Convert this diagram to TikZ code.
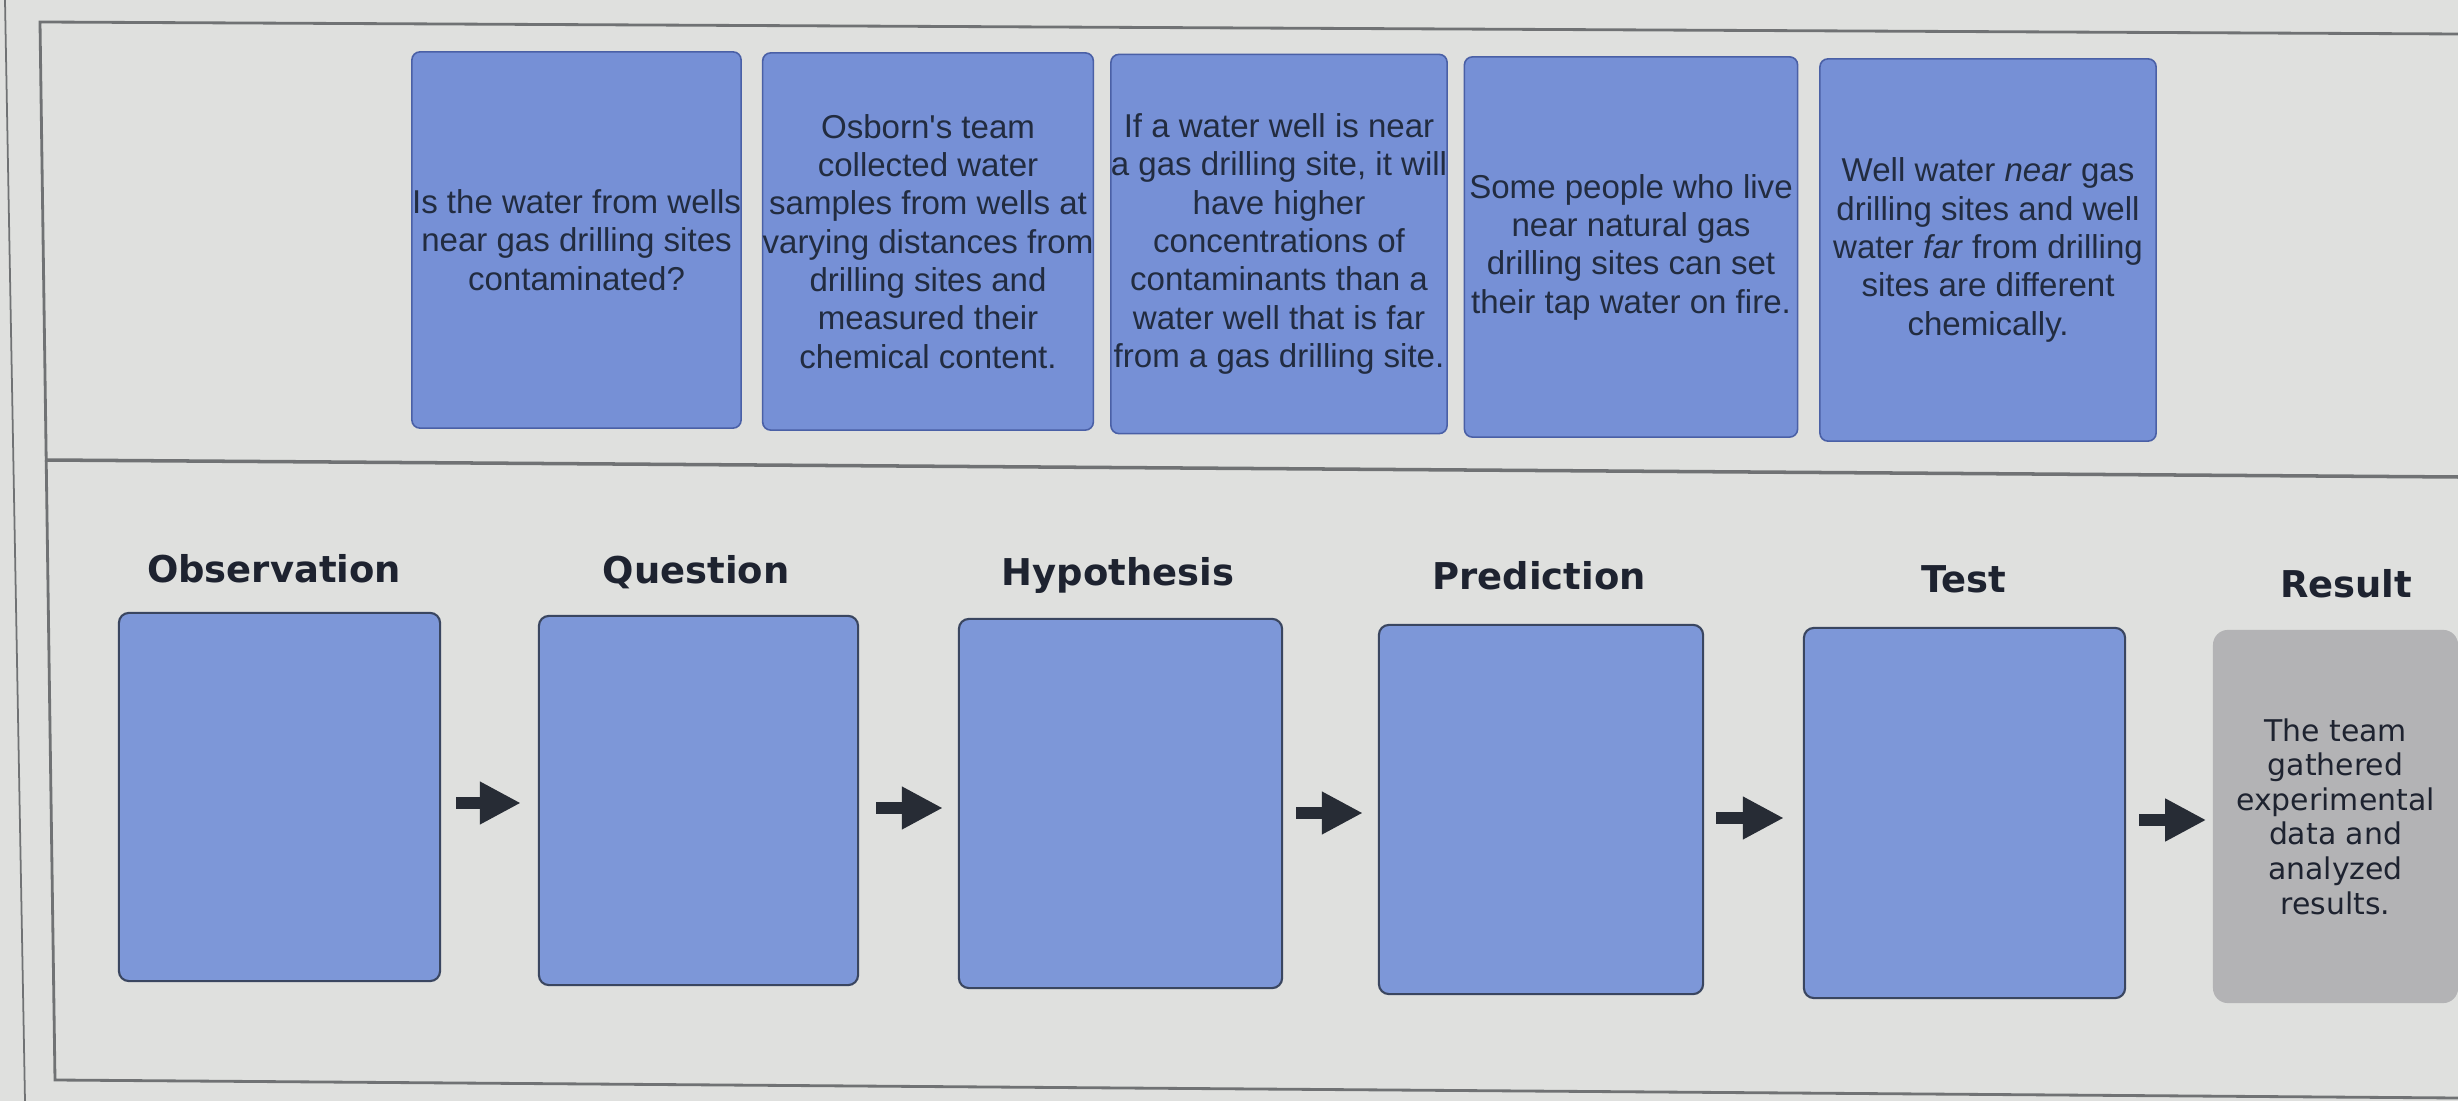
\documentclass[tikz,border=0pt]{standalone}
\usepackage{fontspec}
\setmainfont{Liberation Sans}
\newfontfamily\dejavu{DejaVu Sans}
\usetikzlibrary{arrows.meta,calc}
\definecolor{bg}{HTML}{DFE0DE}
\definecolor{framec}{HTML}{707274}
\definecolor{topfill}{HTML}{7690D6}
\definecolor{topedge}{HTML}{4A60A6}
\definecolor{toptext}{HTML}{222C40}
\definecolor{botfill}{HTML}{7D97D8}
\definecolor{botedge}{HTML}{3A4660}
\definecolor{grayfill}{HTML}{B3B3B5}
\definecolor{headc}{HTML}{1E2330}
\definecolor{arrowc}{HTML}{272C35}
\tikzset{
  topbox/.style={draw=topedge, line width=0.45pt, fill=topfill, rounded corners=0.08cm,
    align=center, inner sep=0pt, text=toptext, font=\fontsize{9.4}{10.9}\selectfont},
  botbox/.style={draw=botedge, line width=0.6pt, fill=botfill, rounded corners=0.1cm, inner sep=0pt},
  resbox/.style={fill=grayfill, rounded corners=0.15cm, inner sep=0pt, align=center,
    text=headc, font=\dejavu\fontsize{8.5}{9.85}\selectfont},
  head/.style={anchor=base, text=headc, font=\dejavu\bfseries\fontsize{10.5}{12}\selectfont},
  arr/.style={draw=arrowc, line width=0.115cm, -{Triangle[length=0.41cm,width=0.40cm]}},
  frameline/.style={draw=framec, line width=0.8pt}
}
\begin{document}
\begin{tikzpicture}[x=0.01cm,y=-0.01cm]
\useasboundingbox (0,0) rectangle (2458,1101);
\clip (0,0) rectangle (2458,1101);
\fill[bg] (0,0) rectangle (2458,1101);
% frame lines
\draw[frameline, line width=0.5pt] (5,0) -- (25,1101);
\draw[frameline] (2458,34) -- (40,22) -- (55,1080) -- (2458,1098);
\draw[frameline, line width=1pt] (45,460) -- (2458,477);
% top cards
\node[topbox, minimum width=3.29cm, minimum height=3.76cm] (t1) at (576.5,240)
  {Is the water from wells\\near gas drilling sites\\contaminated?};
\node[topbox, minimum width=3.26cm, minimum height=3.77cm] (t2) at (928,241.5)
  {Osborn\textquotesingle s team\\collected water\\samples from wells at\\varying distances from\\drilling sites and\\measured their\\chemical content.};
\node[topbox, minimum width=3.27cm, minimum height=3.79cm] (t3) at (1279,244)
  {If a water well is near\\a gas drilling site, it will\\have higher\\concentrations of\\contaminants than a\\water well that is far\\from a gas drilling site.};
\node[topbox, minimum width=3.33cm, minimum height=3.80cm] (t4) at (1631,247)
  {Some people who live\\near natural gas\\drilling sites can set\\their tap water on fire.};
\node[topbox, minimum width=3.36cm, minimum height=3.82cm] (t5) at (1988,250)
  {Well water \textit{near} gas\\drilling sites and well\\water \textit{far} from drilling\\sites are different\\chemically.};
% headings
\node[head] (h1) at (274,583) {Observation};
\node[head] (h2) at (696,584) {Question};
\node[head] (h3) at (1118,586) {Hypothesis};
\node[head] (h4) at (1539,590) {Prediction};
\node[head] (h5) at (1964,593) {Test};
\node[head] (h6) at (2346,598) {Result};
% bottom boxes
\node[botbox, minimum width=3.21cm, minimum height=3.68cm] (b1) at (279.5,797) {};
\node[botbox, minimum width=3.19cm, minimum height=3.69cm] (b2) at (698.5,800.5) {};
\node[botbox, minimum width=3.23cm, minimum height=3.69cm] (b3) at (1120.5,803.5) {};
\node[botbox, minimum width=3.24cm, minimum height=3.69cm] (b4) at (1541,809.5) {};
\node[botbox, minimum width=3.21cm, minimum height=3.70cm] (b5) at (1964.5,813) {};
\node[resbox, minimum width=2.45cm, minimum height=3.73cm] (r) at (2335.5,816.5)
  {The team\\gathered\\experimental\\data and\\analyzed\\results.};
% arrows
\draw[arr, shorten <=0.15cm, shorten >=0.17cm] (b1.east |- 0,803) -- (b2.west |- 0,803);
\draw[arr, shorten <=0.17cm, shorten >=0.15cm] (b2.east |- 0,808) -- (b3.west |- 0,808);
\draw[arr, shorten <=0.13cm, shorten >=0.15cm] (b3.east |- 0,813) -- (b4.west |- 0,813);
\draw[arr, shorten <=0.12cm, shorten >=0.19cm] (b4.east |- 0,818) -- (b5.west |- 0,818);
\draw[arr, shorten <=0.13cm, shorten >=0.06cm] (b5.east |- 0,820) -- (r.west |- 0,820);
\end{tikzpicture}
\end{document}
